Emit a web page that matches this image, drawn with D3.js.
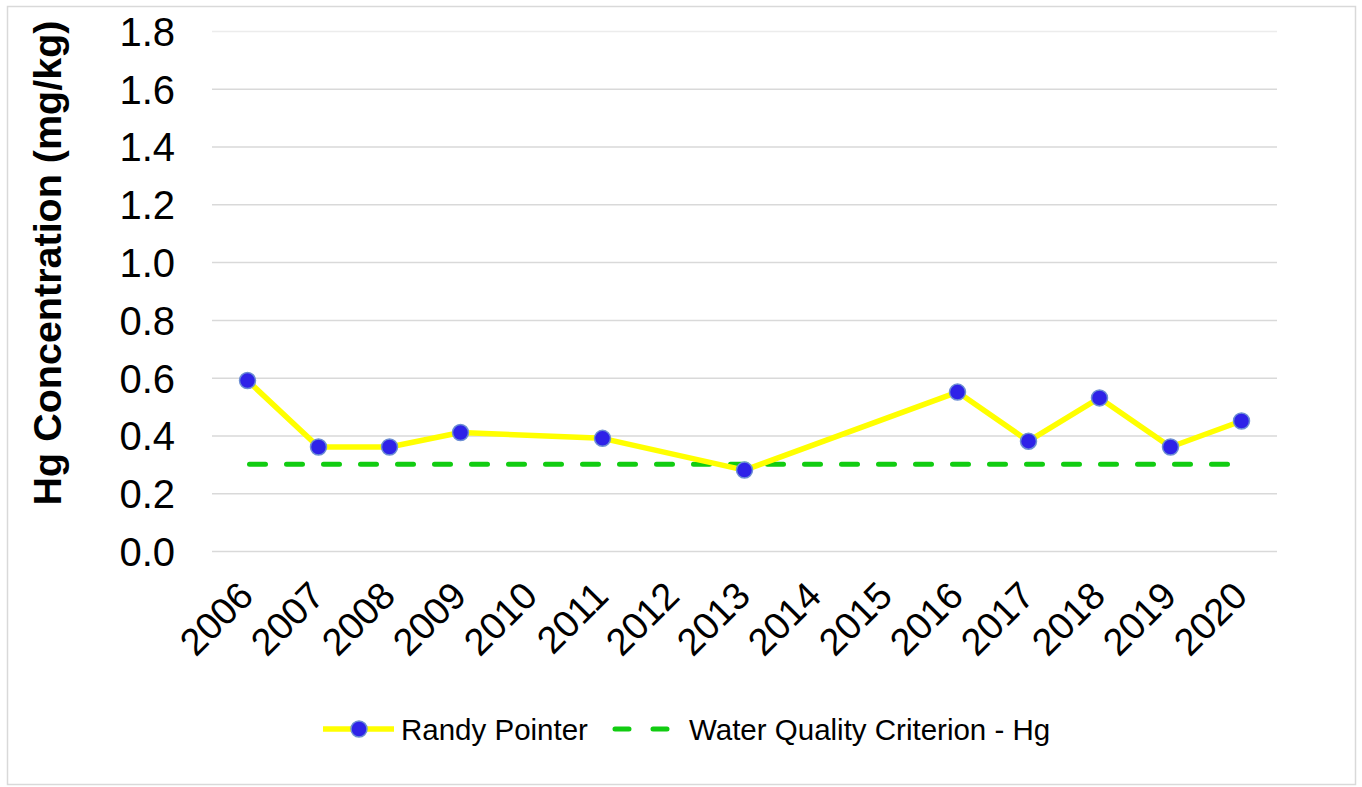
<!DOCTYPE html>
<html>
<head>
<meta charset="utf-8">
<script src="https://cdn.jsdelivr.net/npm/d3@7"></script>
<style>
	html, body { margin: 0; padding: 0; background: #fff; }
	svg text { font-family: 'Liberation Sans', Arial, sans-serif; fill: #000; }
</style>
</head>
<body>
<div class="chart"></div>
<script>
const years = ['2006', '2007', '2008', '2009', '2010', '2011', '2012', '2013', '2014', '2015', '2016', '2017', '2018', '2019', '2020']
const hgValues = [0.59, 0.36, 0.36, 0.41, null, 0.39, null, 0.28, null, null, 0.55, 0.38, 0.53, 0.36, 0.45]
const criterion = 0.3
const yTicks = [0, 0.2, 0.4, 0.6, 0.8, 1.0, 1.2, 1.4, 1.6, 1.8]
const seriesNames = ['Randy Pointer', 'Water Quality Criterion - Hg']

const W = 1362, H = 787
const m = { left: 212, right: 1277, top: 31, bottom: 551 }

const svg = d3.select('div.chart').append('svg')
	.attr('width', W)
	.attr('height', H)

// outer frame
svg.append('rect')
	.attr('x', 7.5).attr('y', 6.5)
	.attr('width', 1348).attr('height', 778)
	.attr('fill', '#fff')
	.attr('stroke', '#d9d9d9')
	.attr('stroke-width', 1.5)

const x = d3.scaleBand().domain(years).range([m.left, m.right])
const y = d3.scaleLinear().domain([0, 1.8]).range([m.bottom, m.top])
const cx = d => x(d) + x.bandwidth() / 2

// gridlines + y labels via axis
const yAxis = svg.append('g')
	.attr('transform', `translate(${m.left},0)`)
	.call(d3.axisLeft(y).tickValues(yTicks).tickFormat(d3.format('.1f')).tickSize(-(m.right - m.left)).tickPadding(37))
yAxis.select('.domain').remove()
yAxis.selectAll('.tick line')
	.attr('stroke', d => d === 1.8 ? '#ececec' : '#d9d9d9')
	.attr('stroke-width', 1.5)
yAxis.selectAll('.tick text')
	.style('font-size', '40px')
	.attr('dy', '0.36em')

// x labels
const xAxis = svg.append('g')
	.attr('transform', `translate(0,${m.bottom})`)
	.call(d3.axisBottom(x).tickSize(0).tickPadding(0))
xAxis.select('.domain').remove()
xAxis.selectAll('.tick text')
	.style('font-size', '38px')
	.attr('text-anchor', 'end')
	.attr('dy', null)
	.attr('y', 0)
	.attr('transform', 'translate(8,47) rotate(-45)')

// y title
svg.append('text')
	.attr('transform', `translate(61,263) rotate(-90)`)
	.attr('text-anchor', 'middle')
	.style('font-size', '39.5px')
	.style('font-weight', 'bold')
	.text('Hg Concentration (mg/kg)')

// criterion line
svg.append('line')
	.attr('x1', cx(years[0]) + 2).attr('x2', cx(years[years.length - 1]) - 4)
	.attr('y1', y(criterion)).attr('y2', y(criterion))
	.attr('stroke', '#11cc11')
	.attr('stroke-width', 5)
	.attr('stroke-linecap', 'round')
	.attr('stroke-dasharray', '16,21')

// series line (gaps bridged)
const pts = years.map((d, i) => ({ year: d, v: hgValues[i] })).filter(d => d.v !== null)
svg.append('path')
	.datum(pts)
	.attr('fill', 'none')
	.attr('stroke', '#ffff00')
	.attr('stroke-width', 5.5)
	.attr('stroke-linejoin', 'round')
	.attr('d', d3.line().x(d => cx(d.year)).y(d => y(d.v)))

svg.selectAll('circle.pt').data(pts).join('circle')
	.attr('class', 'pt')
	.attr('cx', d => cx(d.year))
	.attr('cy', d => y(d.v))
	.attr('r', 8)
	.attr('fill', '#2e22e8')
	.attr('stroke', '#6d8fd4')
	.attr('stroke-width', 1.5)

// legend
const lg = svg.append('g').attr('transform', 'translate(0,729)')
lg.append('line')
	.attr('x1', 323).attr('x2', 394).attr('y1', 0).attr('y2', 0)
	.attr('stroke', '#ffff00').attr('stroke-width', 5.5)
lg.append('circle')
	.attr('cx', 359).attr('cy', 0).attr('r', 8)
	.attr('fill', '#2e22e8').attr('stroke', '#6d8fd4').attr('stroke-width', 1.5)
lg.append('text')
	.attr('x', 401).attr('y', 11)
	.style('font-size', '29.5px')
	.text(seriesNames[0])
lg.append('line')
	.attr('x1', 615).attr('x2', 670).attr('y1', 0).attr('y2', 0)
	.attr('stroke', '#11cc11').attr('stroke-width', 5)
	.attr('stroke-linecap', 'round')
	.attr('stroke-dasharray', '14,24')
lg.append('text')
	.attr('x', 689).attr('y', 11)
	.style('font-size', '29.5px')
	.text(seriesNames[1])
</script>
</body>
</html>
